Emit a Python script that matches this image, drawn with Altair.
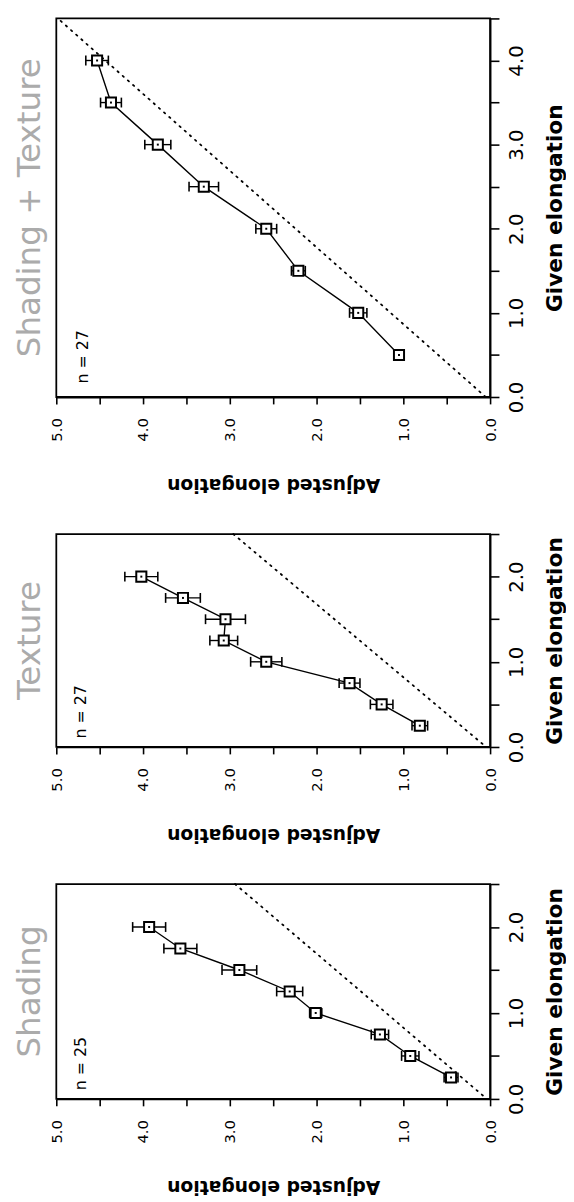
import altair as alt
import pandas as pd

# ---- data ----
# Shading + Texture panel
st_given = [0.5, 1.0, 1.5, 2.0, 2.5, 3.0, 3.5, 4.0]
st_adjusted = [1.05, 1.52, 2.21, 2.58, 3.30, 3.83, 4.37, 4.53]
st_err = [0.05, 0.10, 0.08, 0.12, 0.17, 0.15, 0.12, 0.13]
st_ref_adj = [0.05, 4.95]
st_ref_given = [0.0, 4.47]

# Texture panel
tx_given = [0.25, 0.5, 0.75, 1.0, 1.25, 1.5, 1.75, 2.0]
tx_adjusted = [0.81, 1.25, 1.62, 2.58, 3.07, 3.05, 3.54, 4.02]
tx_err = [0.09, 0.13, 0.12, 0.18, 0.16, 0.23, 0.20, 0.19]
tx_ref_adj = [0.08, 2.96]
tx_ref_given = [0.03, 2.5]

# Shading panel
sh_given = [0.25, 0.5, 0.75, 1.0, 1.25, 1.5, 1.75, 2.0]
sh_adjusted = [0.45, 0.92, 1.27, 2.01, 2.31, 2.89, 3.57, 3.93]
sh_err = [0.08, 0.10, 0.10, 0.07, 0.15, 0.20, 0.19, 0.19]
sh_ref_adj = [0.06, 2.94]
sh_ref_given = [0.02, 2.5]

adj_ticks = [0, 0.5, 1, 1.5, 2, 2.5, 3, 3.5, 4, 4.5, 5]
LABEL_EXPR = "datum.value % 1 === 0 ? format(datum.value, '.1f') : ''"
FONT = "DejaVu Sans"


def panel(given, adj, err, ref_adj, ref_given, ymax, h, title, ntext, n_adj, n_given):
    df = pd.DataFrame({
        "given": given,
        "adj": adj,
        "lo": [a - e for a, e in zip(adj, err)],
        "hi": [a + e for a, e in zip(adj, err)],
    })
    ref = pd.DataFrame({"adj": ref_adj, "given": ref_given})
    lab = pd.DataFrame({"adj": [n_adj], "given": [n_given], "t": [ntext]})

    xs = alt.Scale(domain=[0, 5], reverse=True, nice=False, zero=False)
    ys = alt.Scale(domain=[0, ymax], nice=False, zero=False)
    given_ticks = [v * 0.5 for v in range(int(ymax / 0.5) + 1)]
    xaxis = alt.Axis(title="Adjusted  elongation", orient="bottom", values=adj_ticks,
                     labelExpr=LABEL_EXPR, labelAngle=270, tickSize=7, labelPadding=14,
                     titleAngle=180, titleBaseline="bottom", titlePadding=34, grid=False,
                     labelFontSize=15, titleFontSize=19, titleFontWeight="bold")
    yaxis = alt.Axis(title="Given  elongation", orient="right", values=given_ticks,
                     labelExpr=LABEL_EXPR, labelAngle=270, tickSize=9, labelPadding=8,
                     titleAngle=270, titlePadding=40, grid=False,
                     labelFontSize=20, titleFontSize=22, titleFontWeight="bold")

    def X(f):
        return alt.X(f"{f}:Q", scale=xs, axis=xaxis)

    def Y(f):
        return alt.Y(f"{f}:Q", scale=ys, axis=yaxis)

    refline = alt.Chart(ref).mark_line(color="black", strokeWidth=1.8,
                                       strokeDash=[1.5, 5.5], strokeCap="round").encode(
        x=X("adj"), y=Y("given"))
    line = alt.Chart(df).mark_line(color="black", strokeWidth=1.4).encode(
        x=X("adj"), y=Y("given"), order="given:Q")
    bars = alt.Chart(df).mark_rule(color="black", strokeWidth=1.4).encode(
        x=X("lo"), x2="hi:Q", y=Y("given"))
    cap_lo = alt.Chart(df).mark_tick(orient="vertical", color="black", size=10,
                                     thickness=1.6, opacity=1).encode(x=X("lo"), y=Y("given"))
    cap_hi = alt.Chart(df).mark_tick(orient="vertical", color="black", size=10,
                                     thickness=1.6, opacity=1).encode(x=X("hi"), y=Y("given"))
    squares = alt.Chart(df).mark_square(size=105, color="white", stroke="black",
                                        strokeWidth=2, opacity=1).encode(x=X("adj"), y=Y("given"))
    dots = alt.Chart(df).mark_square(size=4, color="black", opacity=1).encode(
        x=X("adj"), y=Y("given"))
    ntxt = alt.Chart(lab).mark_text(angle=270, align="left", baseline="middle",
                                    fontSize=16, color="black", font=FONT).encode(
        x=X("adj"), y=Y("given"), text="t:N")

    return alt.layer(refline, line, bars, cap_lo, cap_hi, squares, dots, ntxt).properties(
        width=440, height=h,
        title=alt.TitleParams(text=title, orient="left", anchor="middle", fontSize=33,
                              fontWeight="normal", color="#ababab", offset=3, font=FONT),
    )


top = panel(st_given, st_adjusted, st_err, st_ref_adj, st_ref_given, 4.5, 384,
            "Shading  +  Texture", "n = 27", 4.69, 0.16)
mid = panel(tx_given, tx_adjusted, tx_err, tx_ref_adj, tx_ref_given, 2.5, 216,
            "Texture", "n = 27", 4.71, 0.1)
bot = panel(sh_given, sh_adjusted, sh_err, sh_ref_adj, sh_ref_given, 2.5, 218,
            "Shading", "n = 25", 4.71, 0.1)

chart = alt.vconcat(top, mid, bot, spacing=35).properties(
    padding={"left": 5, "top": 0, "right": 0, "bottom": 0}
).configure(
    font=FONT
).configure_view(
    stroke="black", strokeWidth=1.8
).configure_axis(
    domainColor="black", tickColor="black", labelColor="black", titleColor="black",
    tickWidth=1.6, domainWidth=1.8, labelFont=FONT, titleFont=FONT
)

chart.save("out.html", embed_options={"renderer": "svg", "actions": False})
